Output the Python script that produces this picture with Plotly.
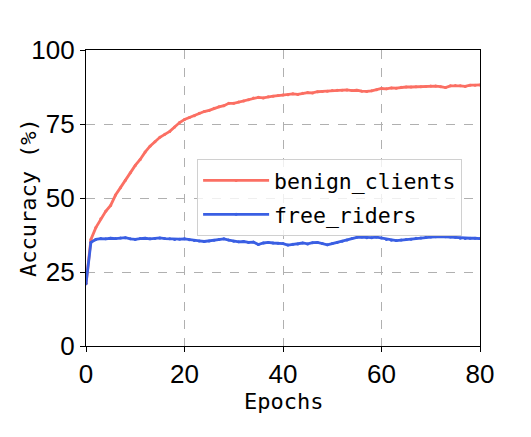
import plotly.graph_objects as go

# ── Data ───────────────────────────────────────────────────────
epochs = list(range(0, 81))

benign_clients = [
    21.0, 36.0, 40.0, 43.0, 45.5, 47.5, 51.0, 53.5, 56.0, 58.5,
    61.0, 63.0, 65.5, 67.5, 69.0, 70.5, 71.5, 72.5, 74.0, 75.5,
    76.5, 77.2, 77.8, 78.6, 79.2, 79.6, 80.3, 80.8, 81.2, 82.0,
    82.0, 82.4, 82.8, 83.2, 83.8, 84.0, 83.8, 84.2, 84.4, 84.6,
    84.8, 84.9, 85.2, 85.0, 85.4, 85.6, 85.5, 85.9, 86.0, 86.1,
    86.3, 86.4, 86.4, 86.5, 86.3, 86.4, 86.1, 86.0, 86.2, 86.6,
    87.0, 86.9, 87.2, 87.1, 87.4, 87.5, 87.5, 87.6, 87.6, 87.7,
    87.8, 87.8, 87.6, 87.3, 87.9, 88.0, 87.9, 87.7, 88.1, 88.1,
    88.2,
]

free_riders = [
    21.0, 35.0, 36.0, 36.3, 36.2, 36.4, 36.3, 36.5, 36.6, 36.2,
    36.0, 36.3, 36.4, 36.2, 36.3, 36.5, 36.3, 36.2, 36.0, 36.1,
    36.2, 35.9, 35.6, 35.5, 35.3, 35.5, 35.7, 36.0, 36.2, 35.8,
    35.4, 35.2, 35.3, 35.0, 35.1, 34.3, 34.8, 35.0, 34.8, 34.7,
    34.6, 34.1, 34.4, 34.5, 34.8, 34.5, 34.9, 35.0, 34.6, 34.2,
    34.6, 35.0, 35.4, 35.8, 36.3, 36.7, 36.8, 36.6, 36.6, 36.8,
    36.5, 36.0, 35.7, 35.6, 35.8, 36.0, 36.1, 36.4, 36.5, 36.7,
    36.8, 36.9, 37.0, 36.9, 36.8, 36.7, 36.4, 36.3, 36.4, 36.4,
    36.3,
]

x_ticks = [0, 20, 40, 60, 80]
y_ticks = [0, 25, 50, 75, 100]

# ── Style ──────────────────────────────────────────────────────
_RED = "#fb6f63"
_BLUE = "#3a5fe3"
_TICK_FONT = dict(family="Liberation Sans, Arial, sans-serif", size=26, color="black")
_MONO = "DejaVu Sans Mono, monospace"
_TITLE_FONT = dict(family=_MONO, size=22, color="black")

fig = go.Figure()
for name, ys, color in [
    ("benign_clients", benign_clients, _RED),
    ("free_riders", free_riders, _BLUE),
]:
    fig.add_trace(
        go.Scatter(
            x=epochs,
            y=ys,
            name=name,
            legendgroup=name,
            mode="lines+markers",
            line=dict(color=color, width=2.8),
            marker=dict(color=color, size=3),
        )
    )

axis_common = dict(
    showline=True,
    linecolor="black",
    linewidth=1.2,
    mirror=True,
    ticks="outside",
    ticklen=5,
    tickcolor="black",
    tickfont=_TICK_FONT,
    showgrid=True,
    gridcolor="#b0b0b0",
    griddash="dash",
    gridwidth=1,
    zeroline=False,
    automargin=False,
)

# axis titles as annotations so they sit exactly where the reference has them
titles = [
    dict(text="Epochs", x=0.5, y=-0.187, textangle=0),
    dict(text="Accuracy (%)", x=-0.147, y=0.5, textangle=-90),
]

# page body has an 8px margin, so margins are shifted to land the axes where the reference has them
fig.update_layout(
    width=531,
    height=437,
    paper_bgcolor="white",
    plot_bgcolor="white",
    margin=dict(l=78, r=59, t=42, b=99),
    xaxis=dict(**axis_common, range=[0, 80], tickvals=x_ticks),
    yaxis=dict(**axis_common, range=[0, 100], tickvals=y_ticks),
    annotations=[
        dict(
            **t,
            xref="paper",
            yref="paper",
            xanchor="center",
            yanchor="middle",
            showarrow=False,
            font=_TITLE_FONT,
        )
        for t in titles
    ],
    legend=dict(
        x=0.282,
        y=0.632,
        xanchor="left",
        yanchor="top",
        bgcolor="rgba(255,255,255,0.8)",
        bordercolor="#d0d0d0",
        borderwidth=1,
        font=dict(family=_MONO, size=21.5, color="black"),
        itemwidth=66,
        tracegroupgap=3,
    ),
    showlegend=True,
)

fig.write_html("out.html")
